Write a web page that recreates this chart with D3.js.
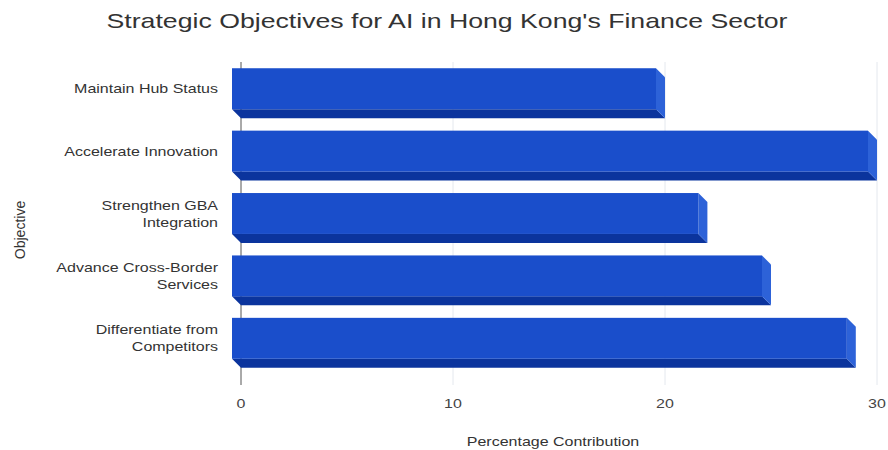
<!DOCTYPE html>
<html>
<head>
<meta charset="utf-8">
<script src="https://cdn.jsdelivr.net/npm/d3@7"></script>
<style>
  html, body { margin: 0; padding: 0; background: #fff; }
  svg { display: block; font-family: "Liberation Sans", Arial, sans-serif; }
</style>
</head>
<body>
<svg id="chart" width="888" height="450"></svg>
<script>
// Objectives and their percentage contribution
const objectives = [
  ["Maintain Hub Status"],
  ["Accelerate Innovation"],
  ["Strengthen GBA", "Integration"],
  ["Advance Cross-Border", "Services"],
  ["Differentiate from", "Competitors"]
];
const contributions = [20, 30, 22, 25, 29];
const xTicks = [0, 10, 20, 30];

const svg = d3.select("#chart");
const depth = 9;             // extrusion of the 3D bars
const stretch = 1.23;        // wide lettering used for all chart text
const plotLeft = 241, plotRight = 877, plotTop = 62, plotBottom = 374;

const x = d3.scaleLinear().domain([0, 30]).range([plotLeft, plotRight]);
const y = d3.scaleBand()
  .domain(d3.range(objectives.length))
  .range([plotTop, plotBottom])
  .paddingInner(0.2)
  .paddingOuter(0.1);

// Title
svg.append("g")
  .attr("transform", `translate(447,28) scale(1.27,1)`)
  .append("text")
  .attr("text-anchor", "middle")
  .attr("font-size", 21)
  .attr("fill", "#333")
  .text("Strategic Objectives for AI in Hong Kong's Finance Sector");

// Vertical gridlines
svg.append("g").selectAll("line")
  .data(xTicks)
  .join("line")
  .attr("x1", d => x(d)).attr("x2", d => x(d))
  .attr("y1", plotTop).attr("y2", plotBottom + 11)
  .attr("stroke", d => d === 0 ? "#555" : "#e4e8ee")
  .attr("stroke-width", 1);

// 3D bars: bottom face, right face, then front face
const bars = svg.append("g").selectAll("g")
  .data(contributions)
  .join("g");

bars.append("path")
  .attr("fill", "#0b349d")
  .attr("d", (d, i) => {
    const yt = y(i), yb = yt + y.bandwidth();
    const x0 = x(0), x1 = x(d);
    return `M${x0 - depth},${yb - depth}L${x1 - depth},${yb - depth}L${x1},${yb}L${x0},${yb}Z`;
  });

bars.append("path")
  .attr("fill", "#2d62d8")
  .attr("d", (d, i) => {
    const yt = y(i), yb = yt + y.bandwidth();
    const x1 = x(d);
    return `M${x1 - depth},${yt}L${x1},${yt + depth}L${x1},${yb}L${x1 - depth},${yb - depth}Z`;
  });

bars.append("rect")
  .attr("fill", "#1a4ecb")
  .attr("x", x(0) - depth)
  .attr("y", (d, i) => y(i))
  .attr("width", d => x(d) - x(0))
  .attr("height", y.bandwidth() - depth);

// Category labels
const labels = svg.append("g").selectAll("g")
  .data(objectives)
  .join("g")
  .attr("transform", (d, i) => `translate(218,${y(i) + (y.bandwidth() - depth) / 2}) scale(${stretch},1)`)
  .append("text")
  .attr("text-anchor", "end")
  .attr("font-size", 13)
  .attr("fill", "#333");

labels.selectAll("tspan")
  .data(d => d.map((t, k) => ({ t, k, n: d.length })))
  .join("tspan")
  .attr("x", 0)
  .attr("y", d => (d.k - (d.n - 1) / 2) * 17)
  .attr("dy", "0.35em")
  .text(d => d.t);

// X tick labels
svg.append("g").selectAll("g")
  .data(xTicks)
  .join("g")
  .attr("transform", d => `translate(${x(d)},408) scale(${stretch},1)`)
  .append("text")
  .attr("text-anchor", "middle")
  .attr("font-size", 13)
  .attr("fill", "#444")
  .text(d => d);

// Axis titles
svg.append("g")
  .attr("transform", `translate(553,446) scale(${stretch},1)`)
  .append("text")
  .attr("text-anchor", "middle")
  .attr("font-size", 13)
  .attr("fill", "#333")
  .text("Percentage Contribution");

svg.append("text")
  .attr("transform", "translate(25,230) rotate(-90)")
  .attr("text-anchor", "middle")
  .attr("font-size", 14)
  .attr("fill", "#333")
  .text("Objective");
</script>
</body>
</html>
